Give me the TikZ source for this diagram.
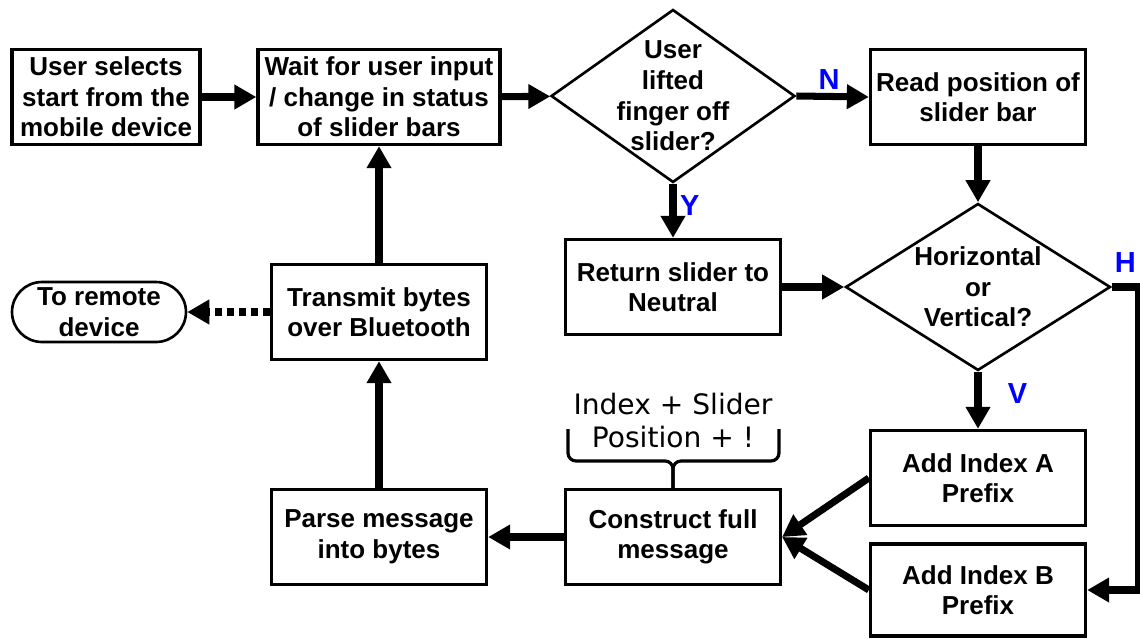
\documentclass[tikz,border=0pt]{standalone}
\usepackage{fontspec}
\setmainfont{Liberation Sans}
\newfontfamily\notefont{DejaVu Sans}
\usepackage{tikz}
\usetikzlibrary{arrows.meta}
\usetikzlibrary{shapes.geometric}
\tikzstyle{chart}=[x=0.02cm, y=-0.02cm, font=\fontsize{14.8}{17.4}\selectfont\bfseries]
\tikzstyle{stepbox}=[rectangle, draw, line width=1.9pt, align=center, inner sep=2pt, minimum width=4.3cm, minimum height=1.9cm]
\tikzstyle{query}=[diamond, draw, line width=1.5pt, align=center, inner sep=-22pt]
\tikzstyle{term}=[rectangle, draw, rounded corners=0.6cm, line width=1.5pt, align=center, inner sep=0pt, minimum width=3.48cm, minimum height=1.2cm]
\tikzstyle{flow}=[-{Triangle[length=0.44cm, width=0.47cm]}, line width=4pt]
\tikzstyle{radio}=[flow, dash pattern=on 4pt off 2.8pt]
\tikzstyle{branch}=[text=blue, inner sep=2pt, font=\fontsize{16.5}{18}\selectfont\bfseries]
\tikzstyle{note}=[align=center, inner sep=0pt, font=\notefont\fontsize{16}{18.8}\selectfont]
\tikzstyle{brace}=[-, line width=1.8pt, rounded corners=0.16cm]

\begin{document}
\begin{tikzpicture}[chart]
\useasboundingbox (0,0) rectangle (1140,639);

%top row
\node[stepbox, minimum width=3.76cm] (start) at (106,97) {User selects\\start from the\\mobile device};
\node[stepbox, minimum width=4.84cm] (wait) at (379,97) {Wait for user input\\/ change in status\\of slider bars};
\node[query, minimum width=4.88cm, minimum height=3.46cm] (lift) at (673,96) {User\\lifted\\finger off\\slider?};
\node[stepbox] (read) at (978,97) {Read position of\\slider bar};

%middle row
\node[stepbox] (ret) at (673,287) {Return slider to\\Neutral};
\node[query, minimum width=5.3cm, minimum height=3.34cm] (hv) at (978,287) {Horizontal\\or\\Vertical?};
\node[stepbox] (trans) at (379,312) {Transmit bytes\\over Bluetooth};
\node[term] (remote) at (99,312) {To remote\\device};

%bottom row
\node[stepbox] (adda) at (978,478) {Add Index A\\Prefix};
\node[stepbox, minimum height=1.84cm] (addb) at (978,590) {Add Index B\\Prefix};
\node[stepbox] (build) at (673,537) {Construct full\\message};
\node[stepbox] (parse) at (379,537) {Parse message\\into bytes};

%message format over the construct box
\node[note] (msgfmt) at (673,421) {Index + Slider\\Position + !};
\draw[brace] (568,429) -- (568,461) -- (673,461) -- (build.north);
\draw[brace] (779,429) -- (779,461) -- (673,461) -- (build.north);

\draw[flow] (start) -- (wait);
\draw[flow] (wait) -- (lift);
\draw[flow] (lift.east) -- (read.west) node[branch, midway, above, xshift=-2pt] (no) {N};
\draw[flow] (lift.south) -- (ret.north) node[branch, midway, right, yshift=3pt] (yes) {Y};
\draw[flow] (read) -- (hv.north);
\draw[flow] (ret) -- (hv.west);
\draw[flow] (hv.south) -- (adda.north) node[branch, midway, right, xshift=13pt, yshift=4pt] (vert) {V};
\draw[flow] (hv.east) -- ++(27,0) node[branch, midway, above, yshift=4pt] (horiz) {H} |- (addb.east);
\draw[flow] (adda.west) -- (build.east);
\draw[flow] (addb.west) -- (build.east);
\draw[flow] (build) -- (parse);
\draw[flow] (parse) -- (trans);
\draw[flow] (trans) -- (wait);
\draw[radio] (trans) -- (remote);
\end{tikzpicture}
\end{document}
